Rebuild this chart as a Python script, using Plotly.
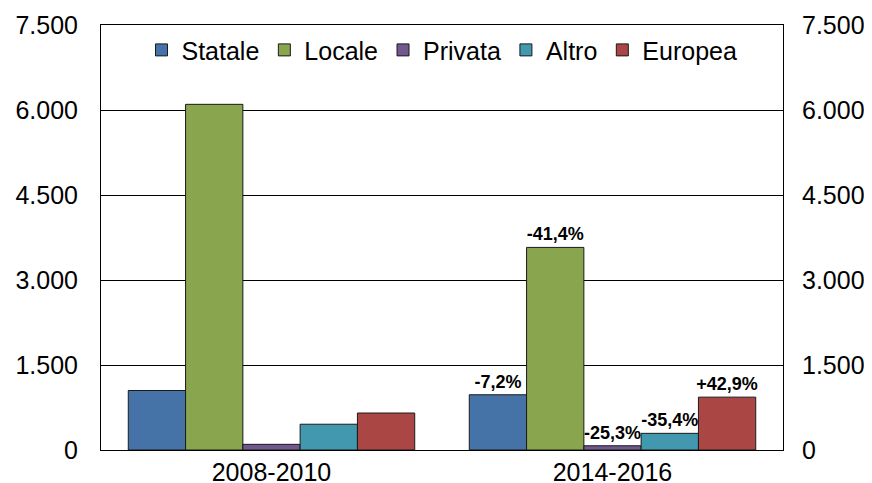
import plotly.graph_objects as go

periods = ["2008-2010", "2014-2016"]
series = ["Statale", "Locale", "Privata", "Altro", "Europea"]
colors = ["#4572A7", "#89A54E", "#71588F", "#4198AF", "#AA4643"]
statale = [1050, 975]
locale = [6100, 3575]
privata = [100, 75]
altro = [455, 294]
europea = [653, 933]
changes = {
    "Statale": ["", "-7,2%"],
    "Locale": ["", "-41,4%"],
    "Privata": ["", "-25,3%"],
    "Altro": ["", "-35,4%"],
    "Europea": ["", "+42,9%"],
}
values = [statale, locale, privata, altro, europea]
tickvals = [0, 1500, 3000, 4500, 6000, 7500]

FONT = "Liberation Sans, Arial, sans-serif"

fig = go.Figure()
for name, col, vals in zip(series, colors, values):
    fig.add_trace(go.Bar(
        x=periods, y=vals, name=name,
        marker=dict(color=col, line=dict(color="#1a1a1a", width=1)),
        text=changes[name], textposition="outside", constraintext="none",
        textfont=dict(family=FONT, size=18, color="black", weight="bold"),
        cliponaxis=False,
    ))

# invisible trace to carry the right-hand axis
fig.add_trace(go.Scatter(x=periods, y=[0, 0], yaxis="y2", mode="markers",
                         marker=dict(opacity=0), showlegend=False, hoverinfo="skip"))

axis_common = dict(
    range=[0, 7500], tickvals=tickvals, tickformat=",d",
    tickfont=dict(family=FONT, size=25, color="black"),
    showline=True, linecolor="black", linewidth=1,
    zeroline=False, ticks="", automargin=False,
)

# page body has an 8px margin, so the figure is sized/margined to compensate
fig.update_layout(
    width=864, height=475,
    margin=dict(l=93, r=89, t=17, b=33),
    separators=",.",
    paper_bgcolor="white", plot_bgcolor="white",
    barmode="group", bargap=0.16, bargroupgap=0,
    font=dict(family=FONT, color="black"),
    xaxis=dict(showline=True, linecolor="black", linewidth=1, mirror=True,
               tickfont=dict(family=FONT, size=25, color="black"), ticks="",
               ticklabelstandoff=0, automargin=False),
    yaxis=dict(**axis_common, showgrid=True, gridcolor="black", gridwidth=1,
               mirror=True, ticklabelstandoff=17),
    yaxis2=dict(**axis_common, overlaying="y", side="right", showgrid=False,
                ticklabelstandoff=13),
    legend=dict(orientation="h", x=0.5, xanchor="center", y=0.995, yanchor="top",
                font=dict(family=FONT, size=25, color="black"),
                bgcolor="rgba(0,0,0,0)", itemwidth=30),
    showlegend=True,
)

fig.write_html("out.html")
